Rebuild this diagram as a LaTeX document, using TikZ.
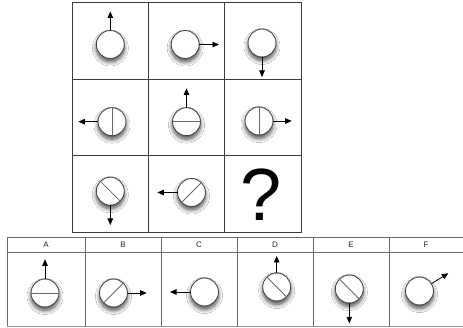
\documentclass[tikz,border=0pt]{standalone}
\usepackage{fontspec}
\setmainfont{Liberation Sans}
\usetikzlibrary{
  arrows.meta,
  shadows.blur
}
\definecolor{rimgray}{RGB}{72,72,72}
\definecolor{linegray}{RGB}{60,60,60}
\definecolor{seamgray}{RGB}{105,105,105}
\definecolor{tablegray}{RGB}{150,150,150}

\tikzset{
  ball/.style={circle, draw=rimgray, line width=0.9pt, fill=white, minimum size=28pt,
    inner sep=0pt, outer sep=0pt,
    blur shadow={shadow xshift=0pt, shadow yshift=-3.5pt, shadow blur radius=4pt,
      shadow blur steps=8, shadow opacity=70}},
  seam/.style={draw=seamgray, line width=0.8pt},
  pointer/.style={draw=black, line width=0.8pt, -{Triangle[length=6.5pt, width=5.5pt]}},
  gridline/.style={draw=linegray, line width=0.8pt},
  hdr/.style={font=\fontsize{8}{9}\selectfont, text=black!85}
}

\begin{document}
\begin{tikzpicture}[x=1pt, y=-1pt]
  \useasboundingbox (0,0) rectangle (463,328);
  \fill[white] (0,0) rectangle (463,328);

  % puzzle grid
  \draw[gridline] (72,2) rectangle (301,232);
  \draw[gridline] (148.5,2) -- (148.5,232);
  \draw[gridline] (224.5,2) -- (224.5,232);
  \draw[gridline] (72,79) -- (301,79);
  \draw[gridline] (72,155.5) -- (301,155.5);

  \node[ball] (b11) at (110.3,44.5) {};
  \coordinate (t11) at (110.3,11.5);
  \draw[pointer] (b11) -- (t11);

  \node[ball] (b12) at (185.2,44.5) {};
  \coordinate (t12) at (219,44.5);
  \draw[pointer] (b12) -- (t12);

  \node[ball] (b13) at (262,43) {};
  \coordinate (t13) at (262,77);
  \draw[pointer] (b13) -- (t13);

  \node[ball] (b21) at (112,121.7) {};
  \coordinate (t21) at (78.3,121.7);
  \draw[seam] (b21.north) -- (b21.south);
  \draw[pointer] (b21) -- (t21);

  \node[ball] (b22) at (186.5,121.7) {};
  \coordinate (t22) at (186.5,88.3);
  \draw[seam] (b22.west) -- (b22.east);
  \draw[pointer] (b22) -- (t22);

  \node[ball] (b23) at (259,121) {};
  \coordinate (t23) at (291.7,121);
  \draw[seam] (b23.north) -- (b23.south);
  \draw[pointer] (b23) -- (t23);

  \node[ball] (b31) at (110.3,191.2) {};
  \coordinate (t31) at (110.3,225);
  \draw[seam] (b31.north west) -- (b31.south east);
  \draw[pointer] (b31) -- (t31);

  \node[ball] (b32) at (191.5,192.5) {};
  \coordinate (t32) at (157.3,192.5);
  \draw[seam] (b32.south west) -- (b32.north east);
  \draw[pointer] (b32) -- (t32);

  \node[font=\fontsize{74}{74}\selectfont, inner sep=0pt] (q) at (261,195) {?};

  % answer table
  \draw[gridline, draw=tablegray!70!black] (463,237) -- (7,237) -- (7,326.7);
  \draw[gridline, draw=tablegray] (7,326.7) -- (463,326.7);
  \draw[gridline, draw=tablegray!70!black] (7,252.3) -- (463,252.3);
  \draw[gridline, draw=tablegray!70!black] (85,237) -- (85,326.7);
  \draw[gridline, draw=tablegray!70!black] (161,237) -- (161,326.7);
  \draw[gridline, draw=tablegray!70!black] (237,237) -- (237,326.7);
  \draw[gridline, draw=tablegray!70!black] (313,237) -- (313,326.7);
  \draw[gridline, draw=tablegray!70!black] (389,237) -- (389,326.7);

  \node[hdr] (hA) at (46,244.7) {A};
  \node[hdr] (hB) at (123,244.7) {B};
  \node[hdr] (hC) at (199,244.7) {C};
  \node[hdr] (hD) at (275,244.7) {D};
  \node[hdr] (hE) at (351,244.7) {E};
  \node[hdr] (hF) at (426,244.7) {F};

  \node[ball] (oA) at (45,293) {};
  \coordinate (tA) at (45,259.3);
  \draw[seam] (oA.west) -- (oA.east);
  \draw[pointer] (oA) -- (tA);

  \node[ball] (oB) at (113.5,293) {};
  \coordinate (tB) at (146.7,293);
  \draw[seam] (oB.south west) -- (oB.north east);
  \draw[pointer] (oB) -- (tB);

  \node[ball] (oC) at (204.5,292) {};
  \coordinate (tC) at (170,292);
  \draw[pointer] (oC) -- (tC);

  \node[ball] (oD) at (276.7,287) {};
  \coordinate (tD) at (276.7,256);
  \draw[seam] (oD.north west) -- (oD.south east);
  \draw[pointer] (oD) -- (tD);

  \node[ball] (oE) at (349.3,289) {};
  \coordinate (tE) at (349.3,323.3);
  \draw[seam] (oE.north west) -- (oE.south east);
  \draw[pointer] (oE) -- (tE);

  \node[ball] (oF) at (419.5,291) {};
  \coordinate (tF) at (448.3,273.3);
  \draw[pointer] (oF) -- (tF);
\end{tikzpicture}
\end{document}
